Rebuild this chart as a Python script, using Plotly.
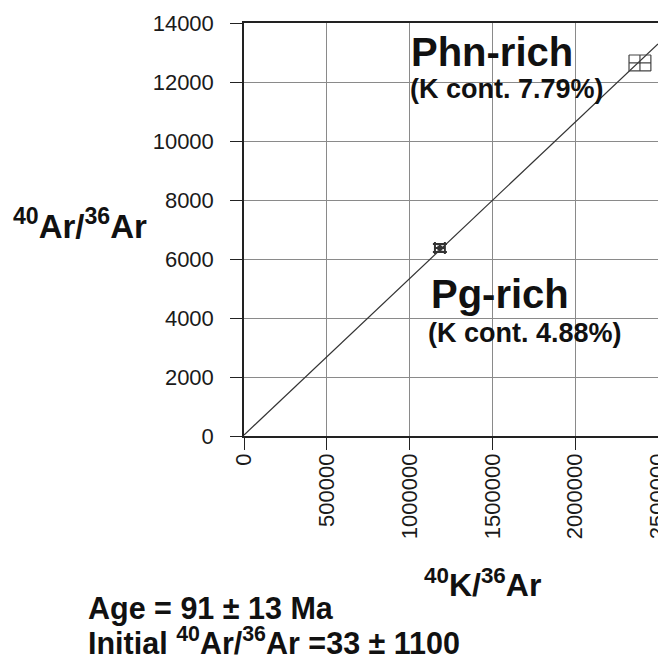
import plotly.graph_objects as go

# Data
sample_names = ["Pg-rich", "Phn-rich"]
k36_ratio = [1183000, 2391000]          # 40K/36Ar
ar_ratio = [6370, 12645]                # 40Ar/36Ar
k36_err = [30000, 66000]
ar_err = [135, 270]

iso_x = [0, 2500000]                     # isochron line ends
iso_y = [33, 13290]

x_ticks = [0, 500000, 1000000, 1500000, 2000000, 2500000]
y_ticks = [0, 2000, 4000, 6000, 8000, 10000, 12000, 14000]

FONT = "Liberation Sans, Arial, Helvetica, sans-serif"

OFF = 8  # default page body margin in the written html
W, H = 666, 659
PL, PR, PT, PB = 244, 658, 23, 436      # plot area in page pixels
L = PL - OFF
T = PT - OFF
R = W - PR
B = H - PB
FW, FH = W - OFF, H - OFF
PW, PH = PR - PL, PB - PT


def px(xp):
    return (xp - PL) / PW


def py(yp):
    return (PB - yp) / PH


fig = go.Figure()

fig.add_trace(go.Scatter(
    x=iso_x, y=iso_y, mode="lines",
    line=dict(color="#333333", width=1.2), showlegend=False, hoverinfo="skip"))

# Phn-rich with box-like error bars
fig.add_trace(go.Scatter(
    x=[k36_ratio[1]], y=[ar_ratio[1]], mode="markers",
    marker=dict(size=1, color="#333333"),
    error_x=dict(type="data", array=[k36_err[1]], color="#444444", thickness=1.2, width=8),
    error_y=dict(type="data", array=[ar_err[1]], color="#444444", thickness=1.2, width=11),
    showlegend=False))

# Pg-rich
fig.add_trace(go.Scatter(
    x=[k36_ratio[0]], y=[ar_ratio[0]], mode="markers",
    marker=dict(size=5, color="#333333", symbol="square"),
    error_x=dict(type="data", array=[k36_err[0]], color="#333333", thickness=2, width=6),
    error_y=dict(type="data", array=[ar_err[0]], color="#333333", thickness=2, width=7),
    showlegend=False))

axis_common = dict(
    showline=True, linecolor="#222222", linewidth=1.5, mirror=True,
    showgrid=True, gridcolor="#8a8a8a", gridwidth=1,
    ticks="outside", ticklen=12, tickcolor="#222222", tickwidth=1.2,
    tickfont=dict(family=FONT, size=22, color="#1a1a1a"),
    zeroline=False, ticklabeloverflow="allow", automargin=False,
)

fig.update_xaxes(range=[0, 2500000], tickvals=x_ticks,
                 ticktext=[str(v) for v in x_ticks], tickangle=-90,
                 ticklabelstandoff=-5, **axis_common)
fig.update_yaxes(range=[0, 14000], tickvals=y_ticks,
                 ticktext=[str(v) for v in y_ticks],
                 ticklabelstandoff=12, **axis_common)

ann = []


def add(text, xp, yp, size, xanchor="center"):
    ann.append(dict(text=text, x=px(xp), y=py(yp), xref="paper", yref="paper",
                    xanchor=xanchor, yanchor="middle", showarrow=False,
                    font=dict(family=FONT, size=size, color="#111111")))


add("<b>Phn-rich</b>", 492, 52, 40)
add("<b>(K cont. 7.79%)</b>", 507, 89, 27)
add("<b>Pg-rich</b>", 500, 294, 40)
add("<b>(K cont. 4.88%)</b>", 525, 333, 27)
add("<b><sup>40</sup>Ar/<sup>36</sup>Ar</b>", 11, 224, 33, "left")
add("<b><sup>40</sup>K/<sup>36</sup>Ar</b>", 482, 583, 32)
add("<b>Age = 91 ± 13 Ma</b>", 86, 608, 30.5, "left")
add("<b>Initial <sup>40</sup>Ar/<sup>36</sup>Ar =33 ± 1100</b>", 86, 641, 30.5, "left")

fig.update_layout(
    width=FW, height=FH,
    margin=dict(l=L, r=R, t=T, b=B, autoexpand=False),
    paper_bgcolor="white", plot_bgcolor="white",
    annotations=ann,
    showlegend=False,
)

fig.write_html("out.html")
